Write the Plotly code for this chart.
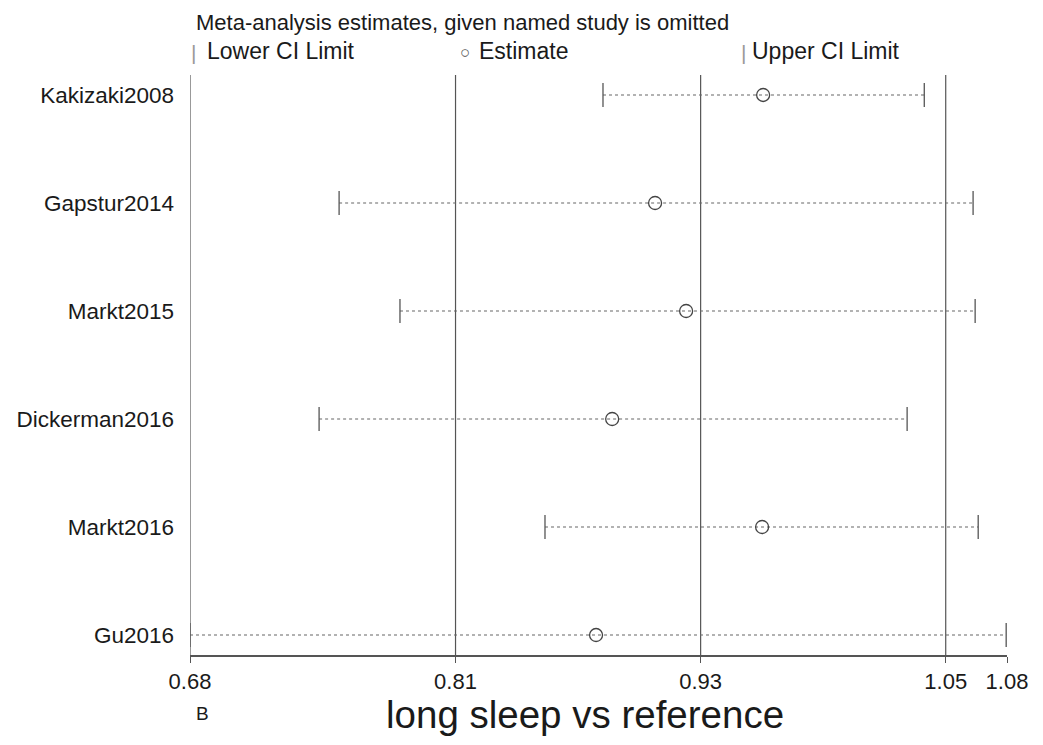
import plotly.graph_objects as go

studies = ["Kakizaki2008", "Gapstur2014", "Markt2015", "Dickerman2016", "Markt2016", "Gu2016"]
estimate = [0.9606, 0.9077, 0.9229, 0.8867, 0.9601, 0.8788]
lower = [0.8822, 0.7530, 0.7828, 0.7432, 0.8538, 0.6800]
upper = [1.0395, 1.0634, 1.0644, 1.0311, 1.0659, 1.0796]
tick_vals = [0.68, 0.81, 0.93, 1.05, 1.08]
tick_text = ["0.68", "0.81", "0.93", "1.05", "1.08"]
grid_vals = [0.81, 0.93, 1.05]

FONT = "Liberation Sans, Arial, sans-serif"
DARK = "#444444"
TXT = "#1a1a1a"

W, H = 1043, 745
L, R, T, B = 182, 44, 67, 98
PW, PH = W - L - R, H - T - B
OFF = 8  # page body margin


def px(sx):
    return (sx - OFF - L) / PW


def py(sy):
    return 1 - (sy - OFF - T) / PH


fig = go.Figure()
for s, lo, hi in zip(studies, lower, upper):
    fig.add_trace(go.Scatter(x=[lo, hi], y=[s, s], mode="lines",
                             line=dict(color="#666666", width=1.2, dash="dot"),
                             showlegend=False, hoverinfo="skip"))
fig.add_trace(go.Scatter(x=lower, y=studies, mode="markers",
                         marker=dict(symbol="line-ns", size=17, line=dict(color="#555555", width=1.3)),
                         showlegend=False))
fig.add_trace(go.Scatter(x=upper, y=studies, mode="markers",
                         marker=dict(symbol="line-ns", size=17, line=dict(color="#555555", width=1.3)),
                         showlegend=False))
fig.add_trace(go.Scatter(x=estimate, y=studies, mode="markers",
                         marker=dict(symbol="circle-open", size=13, color=DARK, line=dict(width=1.3)),
                         showlegend=False))

for g in grid_vals + [0.68]:
    fig.add_shape(type="line", xref="x", yref="paper", x0=g, x1=g, y0=0, y1=1,
                  line=dict(color="#555555", width=1.2), layer="below")

fig.update_layout(
    width=W, height=H,
    margin=dict(l=L, r=R, t=T, b=B, autoexpand=False),
    paper_bgcolor="white", plot_bgcolor="white",
    font=dict(family=FONT, color=TXT, size=20),
    xaxis=dict(range=[0.68, 1.08], tickvals=tick_vals, ticktext=tick_text, automargin=False,
               showgrid=False, zeroline=False, showline=True, linecolor="#555555", linewidth=1.5,
               ticks="outside", ticklen=6, tickcolor="#555555",
               tickfont=dict(size=22, family=FONT, color=TXT)),
    yaxis=dict(categoryorder="array", categoryarray=studies, range=[5.185, -0.185], automargin=False,
               showgrid=False, zeroline=False, showline=False, ticks="",
               ticklabelstandoff=15, tickfont=dict(size=22.5, family=FONT, color=TXT)),
)

texts = [
    dict(text="Meta-analysis estimates, given named study is omitted", x=194, y=22, size=22, color=TXT, anchor="left"),
    dict(text="|", x=193, y=52, size=21, color="#999999", anchor="center"),
    dict(text="Lower CI Limit", x=205, y=51, size=23, color=TXT, anchor="left"),
    dict(text="○", x=465, y=52, size=17, color="#555555", anchor="center"),
    dict(text="Estimate", x=477, y=51, size=23, color=TXT, anchor="left"),
    dict(text="|", x=743, y=52, size=21, color="#999999", anchor="center"),
    dict(text="Upper CI Limit", x=750, y=51, size=23, color=TXT, anchor="left"),
    dict(text="B", x=194, y=713, size=19, color=TXT, anchor="left"),
]
for a in texts:
    fig.add_annotation(text=a["text"], xref="paper", yref="paper",
                       x=px(a["x"]), y=py(a["y"]),
                       xanchor=a["anchor"], yanchor="middle", showarrow=False,
                       font=dict(size=a["size"], family=FONT, color=a["color"]))
fig.add_annotation(text="long sleep vs reference", xref="paper", yref="paper",
                   x=px(585), y=py(714),
                   xanchor="center", yanchor="middle", showarrow=False,
                   font=dict(size=38.5, family=FONT, color=TXT))

fig.write_html("out.html")
